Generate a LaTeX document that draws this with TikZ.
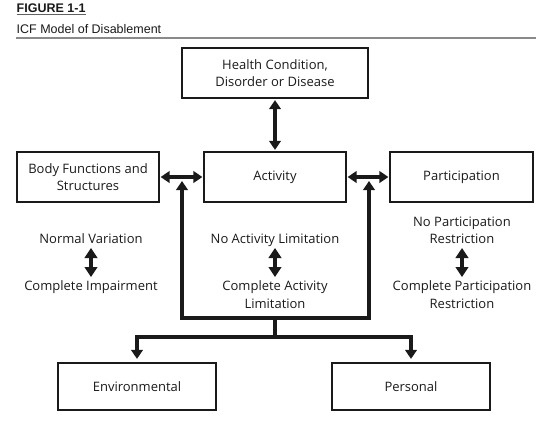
\documentclass[tikz,border=0pt]{standalone}
\usepackage{fontspec}
\setmainfont{Open Sans}
\newfontfamily\hdfont{Liberation Sans}
\usetikzlibrary{arrows.meta}
\definecolor{ink}{HTML}{1A1A1A}
\definecolor{rulegray}{HTML}{8A8A8A}
\begin{document}
\begin{tikzpicture}[x=1pt,y=-1pt,
  every node/.style={text=ink},
  box/.style={draw=ink, line width=1.2pt, align=center, inner sep=0pt,
    font=\fontsize{13}{17.5}\selectfont},
  lbl/.style={anchor=base, inner sep=0pt, font=\fontsize{13}{17.5}\selectfont},
  hdr/.style={anchor=base west, inner sep=0pt, font=\hdfont\fontsize{12.5}{14}\selectfont},
  conn/.style={draw=ink, line width=3.5pt, line join=miter,
    >={Triangle[length=9pt,width=11.5pt]}},
  rangearrow/.style={draw=ink, line width=4pt,
    {Triangle[length=10pt,width=12.5pt]}-{Triangle[length=10pt,width=12.5pt]}}
]
\useasboundingbox (0,0) rectangle (553,437);

% header
\node[hdr, font=\hdfont\bfseries\fontsize{12.5}{14}\selectfont] (fig) at (16.5,12.3) {FIGURE 1-1};
\draw[rulegray!70!black, line width=1.4pt] (fig.south west) ++(0,1.6) coordinate (ulA) -- (fig.south east |- ulA) coordinate (ulB);
\node[hdr] (title) at (16.5,33.3) {ICF Model of Disablement};
\coordinate (ruleA) at (16,38);
\coordinate (ruleB) at (536,38);
\draw[rulegray, line width=1.7pt] (ruleA) -- (ruleB);

% boxes
\node[box, minimum width=186pt, minimum height=50pt] (health) at (275,73) {Health Condition,\\Disorder or Disease};
\node[box, minimum width=142pt, minimum height=50pt] (body) at (88,177) {Body Functions and\\Structures};
\node[box, minimum width=142pt, minimum height=50pt] (activity) at (275,177) {Activity};
\node[box, minimum width=143pt, minimum height=50pt] (partic) at (461.5,177) {Participation};
\node[box, minimum width=158pt, minimum height=47pt] (env) at (137,386.5) {Environmental};
\node[box, minimum width=158pt, minimum height=47pt] (pers) at (411,386.5) {Personal};

% connectors between boxes
\draw[conn,<->,shorten <=1.5pt,shorten >=1.5pt] (health.south) -- (activity.north);
\draw[conn,<->,shorten <=1pt,shorten >=1pt] (body.east) -- (activity.west);
\draw[conn,<->,shorten <=1pt,shorten >=1pt] (activity.east) -- (partic.west);

% hub
\coordinate (upL) at (182,181);
\coordinate (cL) at (182,318);
\coordinate (cR) at (369,318);
\coordinate (upR) at (369,181);
\coordinate (hubM) at (275,318);
\coordinate (split) at (275,337);
\draw[conn,<->] (upL) -- (cL) -- (cR) -- (upR);
\draw[conn] (hubM) -- (split);
\draw[conn,<->,shorten <=3.5pt,shorten >=3.5pt] (env.north) -- (env.north |- split) -- (pers.north |- split) -- (pers.north);

% scales
\node[lbl] (nv) at (91,243.5) {Normal Variation};
\node[lbl] (ci) at (91,290.5) {Complete Impairment};
\coordinate (s1a) at (91,248);
\coordinate (s1b) at (91,277);
\draw[rangearrow] (s1a) -- (s1b);

\node[lbl] (nal) at (275,243.5) {No Activity Limitation};
\node[lbl] (cal1) at (275,290.5) {Complete Activity};
\node[lbl] (cal2) at (275,308) {Limitation};
\coordinate (s2a) at (275,248);
\coordinate (s2b) at (275,277);
\draw[rangearrow] (s2a) -- (s2b);

\node[lbl] (np1) at (462,226) {No Participation};
\node[lbl] (np2) at (462,243.5) {Restriction};
\node[lbl] (cp1) at (462,290.5) {Complete Participation};
\node[lbl] (cp2) at (462,308) {Restriction};
\coordinate (s3a) at (462,248);
\coordinate (s3b) at (462,277);
\draw[rangearrow] (s3a) -- (s3b);
\end{tikzpicture}
\end{document}
